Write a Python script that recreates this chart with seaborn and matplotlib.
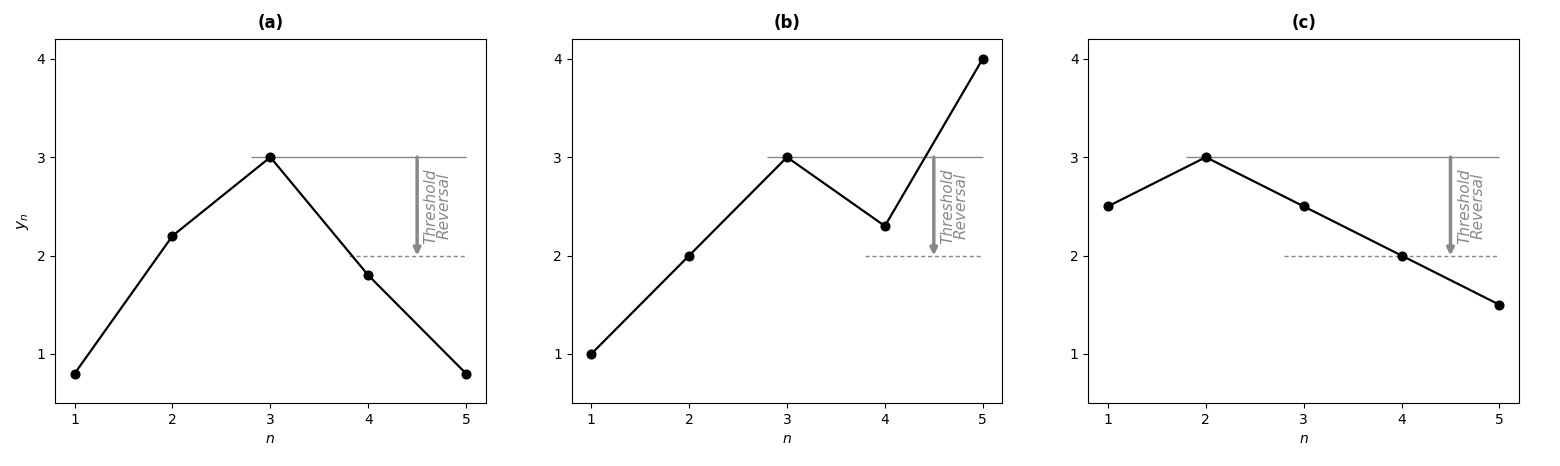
import matplotlib
matplotlib.use("Agg")
import matplotlib.pyplot as plt
import seaborn as sns
import pandas as pd

n_values = [1, 2, 3, 4, 5]
series_a = [0.8, 2.2, 3.0, 1.8, 0.8]
series_b = [1.0, 2.0, 3.0, 2.3, 4.0]
series_c = [2.5, 3.0, 2.5, 2.0, 1.5]
titles = ["(a)", "(b)", "(c)"]
threshold = 3.0
reversal = 2.0
peaks = [3, 3, 2]
dash_starts = [3.8, 3.8, 2.8]

fig, axes = plt.subplots(1, 3, figsize=(15.6, 4.66), dpi=100)
fig.subplots_adjust(left=0.0353, right=0.9737, top=0.916, bottom=0.135, wspace=0.2)

for ax, ys, title, pk, ds in zip(axes, [series_a, series_b, series_c], titles, peaks, dash_starts):
    df = pd.DataFrame({"n": n_values, "y": ys})
    ax.hlines(threshold, pk - 0.2, 5, color="#888888", lw=1, zorder=1)
    ax.hlines(reversal, ds, 5, color="#888888", lw=1, linestyles=(0, (3, 2)), zorder=1)
    sns.lineplot(data=df, x="n", y="y", ax=ax, color="black", marker="o",
                 markersize=6.5, markeredgecolor="black", linewidth=1.6, zorder=3)
    ax.annotate("", xy=(4.5, reversal), xytext=(4.5, threshold),
                arrowprops=dict(arrowstyle="-|>", color="#888888", lw=2.5,
                                mutation_scale=10, shrinkA=0, shrinkB=0))
    ax.text(4.71, 2.5, "Threshold\nReversal", rotation=90, ha="center", va="center",
            color="#888888", fontsize=11, style="italic", linespacing=0.85)
    ax.set_xlim(0.8, 5.2)
    ax.set_ylim(0.5, 4.2)
    ax.set_xticks([1, 2, 3, 4, 5])
    ax.set_yticks([1, 2, 3, 4])
    ax.set_title(title, fontweight="bold", pad=8)
    ax.set_xlabel("$n$")
    ax.set_ylabel("")
axes[0].set_ylabel("$y_n$", fontsize=11)

fig.savefig("out.png", dpi=100)
